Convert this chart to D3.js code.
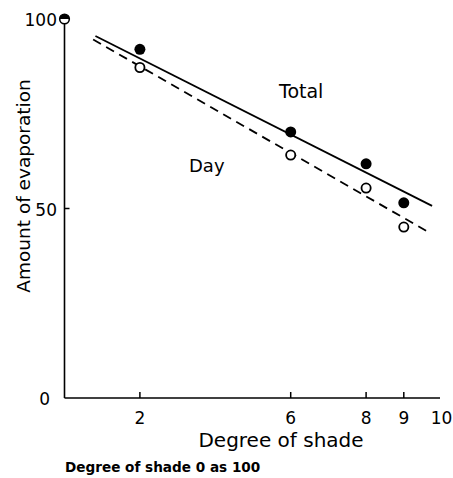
<!DOCTYPE html>
<html><head><meta charset="utf-8">
<script src="https://cdn.jsdelivr.net/npm/d3@7"></script>
<style>body{margin:0;background:#fff}svg{display:block}text{font-family:"DejaVu Sans",sans-serif;fill:#000}</style>
</head><body>
<svg id="c" width="453" height="478"></svg>
<script>
const shade = [2, 6, 8, 9];
const totalVals = [92, 70.2, 61.8, 51.5];
const dayVals = [87.2, 64.1, 55.4, 45.1];
const origin = [0, 100];
const totalLine = [[0.82, 95.5], [9.75, 50.7]];
const dayLine = [[0.76, 94.6], [9.7, 43.5]];
const xTicks = [2, 6, 8, 9, 10];
const yTicks = [0, 50, 100];

const svg = d3.select("#c");
const x = d3.scaleLinear().domain([0, 10]).range([64.5, 441.5]);
const y = d3.scaleLinear().domain([0, 100]).range([398, 19]);

svg.append("line").attr("x1", x(0)).attr("x2", 440).attr("y1", y(0)).attr("y2", y(0)).attr("stroke", "#000").attr("stroke-width", 1.6);
svg.append("line").attr("x1", x(0)).attr("x2", x(0)).attr("y1", y(0)).attr("y2", y(100)).attr("stroke", "#000").attr("stroke-width", 1.6);

svg.selectAll(".xt").data(xTicks.filter(d => d < 10)).enter().append("line")
  .attr("x1", d => x(d)).attr("x2", d => x(d)).attr("y1", y(0)).attr("y2", y(0) - 6)
  .attr("stroke", "#000").attr("stroke-width", 1.5);
svg.selectAll(".xl").data(xTicks).enter().append("text")
  .attr("x", d => x(d)).attr("y", 424).attr("text-anchor", "middle")
  .attr("font-size", 17).text(d => d);

svg.selectAll(".yt").data(yTicks.filter(d => d > 0 && d < 100)).enter().append("line")
  .attr("x1", x(0)).attr("x2", x(0) + 5).attr("y1", d => y(d)).attr("y2", d => y(d))
  .attr("stroke", "#000").attr("stroke-width", 1.5);
svg.selectAll(".yl").data(yTicks).enter().append("text")
  .attr("x", d => d === 0 ? 50 : 57).attr("y", d => y(d) + 7).attr("text-anchor", "end")
  .attr("font-size", 17).text(d => d);

const lg = d3.line().x(d => x(d[0])).y(d => y(d[1]));
svg.append("path").attr("d", lg(totalLine)).attr("stroke", "#000").attr("stroke-width", 1.8).attr("fill", "none");
svg.append("path").attr("d", lg(dayLine)).attr("stroke", "#000").attr("stroke-width", 1.8).attr("fill", "none").attr("stroke-dasharray", "9,6");

svg.selectAll(".tp").data(shade).enter().append("circle")
  .attr("cx", d => x(d)).attr("cy", (d, i) => y(totalVals[i])).attr("r", 5.5).attr("fill", "#000");
svg.selectAll(".dp").data(shade).enter().append("circle")
  .attr("cx", d => x(d)).attr("cy", (d, i) => y(dayVals[i])).attr("r", 4.6)
  .attr("fill", "#fff").attr("stroke", "#000").attr("stroke-width", 1.8);

const ox = x(origin[0]), oy = y(origin[1]);
svg.append("circle").attr("cx", ox).attr("cy", oy).attr("r", 4.8).attr("fill", "#fff").attr("stroke", "#000").attr("stroke-width", 1.6);
svg.append("path").attr("d", d3.arc()({innerRadius: 0, outerRadius: 4.8, startAngle: -Math.PI / 2, endAngle: Math.PI / 2}))
  .attr("transform", `translate(${ox},${oy})`).attr("fill", "#000");

svg.append("text").attr("x", 279).attr("y", 98).attr("font-size", 19).text("Total");
svg.append("text").attr("x", 189).attr("y", 172).attr("font-size", 18).text("Day");
svg.append("text").attr("x", 281).attr("y", 447).attr("text-anchor", "middle").attr("font-size", 20).text("Degree of shade");
svg.append("text").attr("transform", "translate(30,186) rotate(-90)").attr("text-anchor", "middle").attr("font-size", 18.5).text("Amount of evaporation");
svg.append("text").attr("x", 65).attr("y", 472).attr("font-size", 13.6).attr("font-weight", "bold").text("Degree of shade 0  as 100");
</script>
</body></html>
